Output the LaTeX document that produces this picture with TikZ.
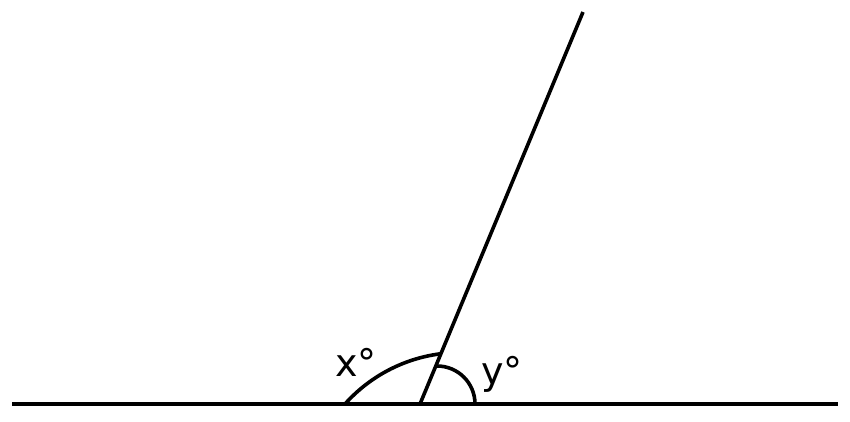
\documentclass[tikz,border=0pt]{standalone}
\usepackage{fontspec}
\setmainfont{DejaVu Sans}
\begin{document}
\begin{tikzpicture}[x=1pt,y=1pt,
  geo/.style={line width=3.6pt, black},
  lbl/.style={font=\fontsize{38}{42}\selectfont, inner sep=0pt, anchor=base west}]
\useasboundingbox (0,0) rectangle (850,422);
\coordinate (L) at (12,18);
\coordinate (R) at (838,18);
\coordinate (V) at (420,18);
\coordinate (T) at (583,410);
\coordinate (xs) at (345,18);
\coordinate (ys) at (475,18);
\draw[geo] (L) -- (R);
\draw[geo] (V) -- (T);
\draw[geo] (xs) arc[start angle=138.2, end angle=97.4, radius=154.3];
\draw[geo] (ys) arc[start angle=0, end angle=90, radius=38];
\node[lbl] (xl) at (335,45.3) {x°};
\node[lbl] (yl) at (481,37) {y°};
\end{tikzpicture}
\end{document}
